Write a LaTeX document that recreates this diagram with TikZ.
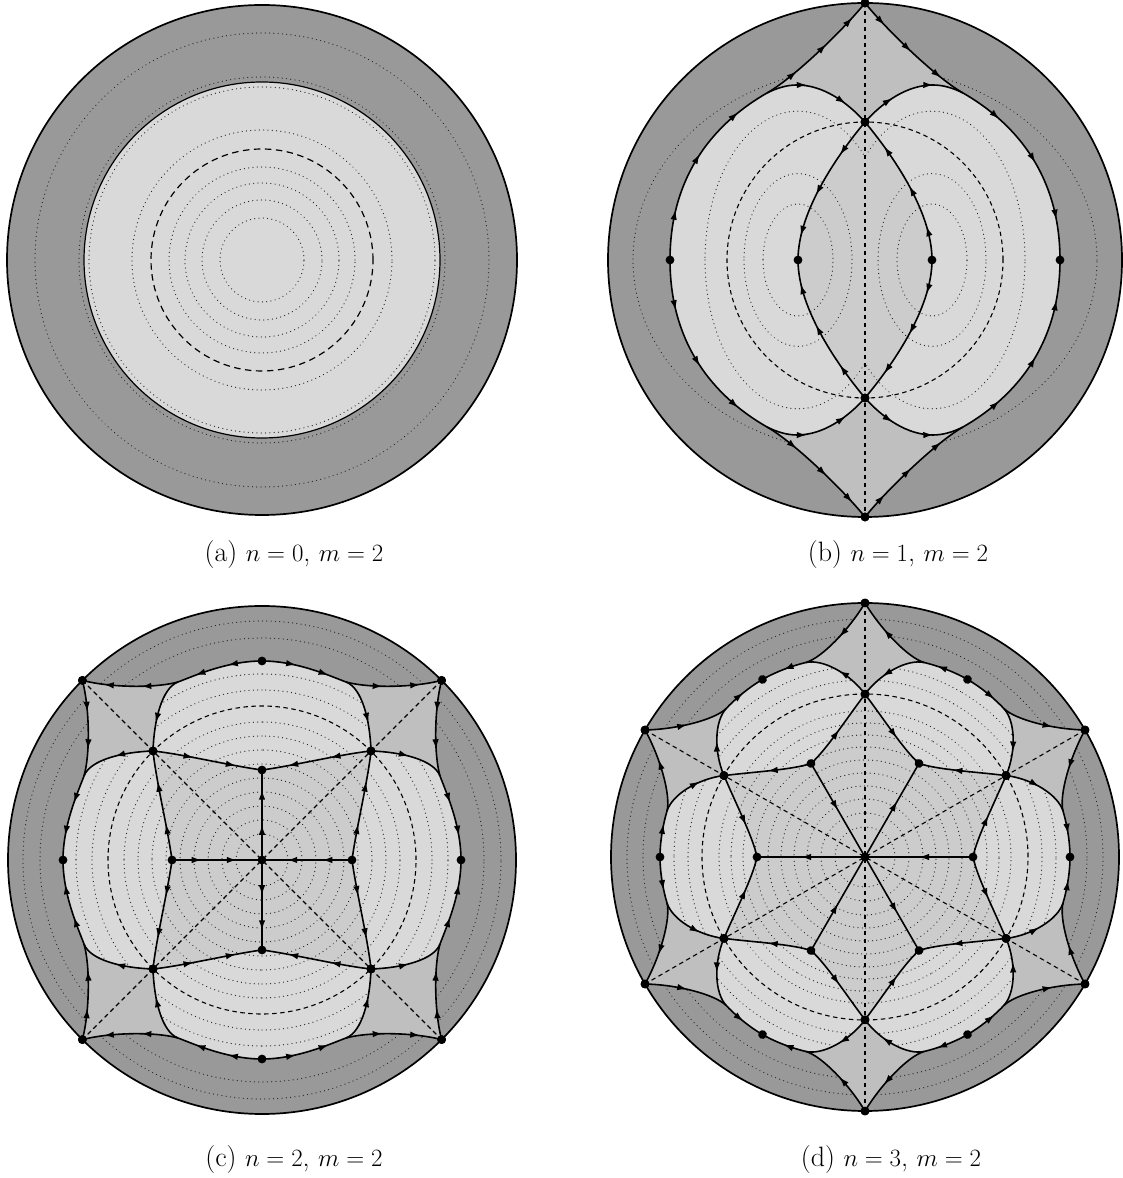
\documentclass[tikz,border=0pt]{standalone}
\usetikzlibrary{arrows.meta,decorations.markings}
\tikzset{
 drk/.style={fill=black!40},
 mdm/.style={fill=black!25},
 lgt/.style={fill=black!15},
 inr/.style={fill=black!20},
 sep/.style={line width=1.6pt},
 dsh/.style={line width=1.1pt,dash pattern=on 4.5pt off 3.5pt},
 dtt/.style={line width=1.25pt,line cap=round,dash pattern=on 0.01pt off 4.3pt,black!85},
 bnd/.style={line width=1.7pt},
 Fone/.style={postaction={decorate,decoration={markings,mark=at position 0.5 with {\arrow{>}}}}},
 Ftwo/.style={postaction={decorate,decoration={markings,mark=at position 0.33 with {\arrow{>}},mark=at position 0.72 with {\arrow{>}}}}},
 Fthree/.style={postaction={decorate,decoration={markings,mark=at position 0.22 with {\arrow{>}},mark=at position 0.5 with {\arrow{>}},mark=at position 0.8 with {\arrow{>}}}}},
 Rone/.style={postaction={decorate,decoration={markings,mark=at position 0.5 with {\arrow{<}}}}},
 Rtwo/.style={postaction={decorate,decoration={markings,mark=at position 0.33 with {\arrow{<}},mark=at position 0.72 with {\arrow{<}}}}},
 Rthree/.style={postaction={decorate,decoration={markings,mark=at position 0.22 with {\arrow{<}},mark=at position 0.5 with {\arrow{<}},mark=at position 0.8 with {\arrow{<}}}}},
 captxt/.style={font=\fontsize{28}{33}\selectfont}
}
\newcommand\dotr{4.4}
% ---------- panel b (n=1)
\newcommand\bMed{(0,0) -- (0,257) .. controls (20,232) and (70,183) .. (98,167) .. controls (145,140) and (195,90) .. (195,0) .. controls (195,-90) and (145,-140) .. (98,-167) .. controls (70,-183) and (20,-232) .. (0,-257) -- cycle}
\newcommand\bLobe{(0,138) .. controls (18,158) and (42,175) .. (68,175) .. controls (78,175) and (88,172) .. (98,167) .. controls (145,140) and (195,90) .. (195,0) .. controls (195,-90) and (145,-140) .. (98,-167) .. controls (88,-172) and (78,-175) .. (68,-175) .. controls (42,-175) and (18,-158) .. (0,-138) .. controls (25,-108) and (67,-50) .. (67,0) .. controls (67,50) and (25,108) .. (0,138) -- cycle}
\newcommand\bInn{(0,0) -- (0,138) .. controls (25,108) and (67,50) .. (67,0) .. controls (67,-50) and (25,-108) .. (0,-138) -- cycle}
\newcommand\bClip{(0,0) -- (0,138) .. controls (18,158) and (42,175) .. (68,175) .. controls (78,175) and (88,172) .. (98,167) .. controls (145,140) and (195,90) .. (195,0) .. controls (195,-90) and (145,-140) .. (98,-167) .. controls (88,-172) and (78,-175) .. (68,-175) .. controls (42,-175) and (18,-158) .. (0,-138) -- cycle}
\newcommand\bHalf[1]{%
 \draw[sep,#1three] (0,257) .. controls (20,232) and (70,183) .. (98,167);
 \draw[sep,#1three] (98,167) .. controls (145,140) and (195,90) .. (195,0);
 \draw[sep,#1two] (0,138) .. controls (18,158) and (42,175) .. (68,175) .. controls (78,175) and (88,172) .. (98,167);
 \draw[sep,#1three] (67,0) .. controls (67,50) and (25,108) .. (0,138);
 \fill (0,257) circle (\dotr) (0,138) circle (\dotr);}
\newcommand\bFrame[2]{\begin{scope}[rotate=#1]\bHalf{#2}\begin{scope}[yscale=-1]\bHalf{#2}\end{scope}\fill (195,0) circle (\dotr) (67,0) circle (\dotr);\end{scope}}
% ---------- panel c (n=2)
\newcommand\cMed{(0,0) -- (179.6,179.6) .. controls (172,150) and (172,105) .. (178,84) .. controls (184,68) and (199,35) .. (199,0) .. controls (199,-35) and (184,-68) .. (178,-84) .. controls (172,-105) and (172,-150) .. (179.6,-179.6) -- cycle}
\newcommand\cLobe{(109,109) .. controls (140,108) and (172,100) .. (178,84) .. controls (184,68) and (199,35) .. (199,0) .. controls (199,-35) and (184,-68) .. (178,-84) .. controls (172,-100) and (140,-108) .. (109,-109) .. controls (106,-80) and (94,-30) .. (90,0) .. controls (94,30) and (106,80) .. (109,109) -- cycle}
\newcommand\cInn{(0,0) -- (109,109) .. controls (106,80) and (94,30) .. (90,0) .. controls (94,-30) and (106,-80) .. (109,-109) -- cycle}
\newcommand\cClip{(0,0) -- (109,109) .. controls (140,108) and (172,100) .. (178,84) .. controls (184,68) and (199,35) .. (199,0) .. controls (199,-35) and (184,-68) .. (178,-84) .. controls (172,-100) and (140,-108) .. (109,-109) -- cycle}
\newcommand\cHalf[1]{%
 \draw[sep,#1two] (179.6,179.6) .. controls (172,150) and (172,105) .. (178,84);
 \draw[sep,#1two] (178,84) .. controls (184,68) and (199,35) .. (199,0);
 \draw[sep,#1one] (109,109) .. controls (140,108) and (172,100) .. (178,84);
 \draw[sep,#1two] (90,0) .. controls (94,30) and (106,80) .. (109,109);
 \fill (179.6,179.6) circle (\dotr) (109,109) circle (\dotr);}
\newcommand\cFrame[2]{\begin{scope}[rotate=#1]\cHalf{#2}\begin{scope}[yscale=-1]\cHalf{#2}\end{scope}\draw[sep,#2two] (90,0) -- (0,0);\fill (199,0) circle (\dotr) (90,0) circle (\dotr);\end{scope}}
% ---------- panel d (n=3)
\newcommand\dMed{(0,0) -- (220,127) .. controls (205,100) and (194,62) .. (198,46) .. controls (201,36) and (205,18) .. (205,0) .. controls (205,-18) and (201,-36) .. (198,-46) .. controls (194,-62) and (205,-100) .. (220,-127) -- cycle}
\newcommand\dLobe{(141,81.5) .. controls (168,78) and (193,62) .. (198,46) .. controls (201,36) and (205,18) .. (205,0) .. controls (205,-18) and (201,-36) .. (198,-46) .. controls (193,-62) and (168,-78) .. (141,-81.5) .. controls (130,-55) and (112,-20) .. (108,0) .. controls (112,20) and (130,55) .. (141,81.5) -- cycle}
\newcommand\dInn{(0,0) -- (141,81.5) .. controls (130,55) and (112,20) .. (108,0) .. controls (112,-20) and (130,-55) .. (141,-81.5) -- cycle}
\newcommand\dClip{(0,0) -- (141,81.5) .. controls (168,78) and (193,62) .. (198,46) .. controls (201,36) and (205,18) .. (205,0) .. controls (205,-18) and (201,-36) .. (198,-46) .. controls (193,-62) and (168,-78) .. (141,-81.5) -- cycle}
\newcommand\dHalf[1]{%
 \draw[sep,#1one] (220,127) .. controls (205,100) and (194,62) .. (198,46);
 \draw[sep,#1one] (198,46) .. controls (201,36) and (205,18) .. (205,0);
 \draw[sep,#1one] (141,81.5) .. controls (168,78) and (193,62) .. (198,46);
 \draw[sep,#1one] (108,0) .. controls (112,20) and (130,55) .. (141,81.5);
 \fill (220,127) circle (\dotr) (141,81.5) circle (\dotr);}
\newcommand\dFrame[2]{\begin{scope}[rotate=#1]\dHalf{#2}\begin{scope}[yscale=-1]\dHalf{#2}\end{scope}\draw[sep,#2one] (108,0) -- (0,0);\fill (205,0) circle (\dotr) (108,0) circle (\dotr);\end{scope}}
\begin{document}
\begin{tikzpicture}[x=1pt,y=1pt,>={Latex[length=10pt,width=6.5pt]}]
\useasboundingbox (0,0) rectangle (1123,1178);
% ===== (a)
\begin{scope}[shift={(262,918)}]
 \fill[drk] (0,0) circle (255);
 \foreach \rr in {227,183} \draw[dtt] (0,0) circle (\rr);
 \fill[lgt] (0,0) circle (178);
 \foreach \rr in {42,60,77,93,130,173} \draw[dtt] (0,0) circle (\rr);
 \draw[line width=1.2pt,dash pattern=on 6.5pt off 4.5pt] (0,0) circle (111);
 \draw[line width=1.2pt] (0,0) circle (178);
 \draw[bnd] (0,0) circle (255);
\end{scope}
% ===== (b)
\begin{scope}[shift={(865,918)}]
 \fill[drk] (0,0) circle (257);
 \draw[dtt] (0,0) ellipse [x radius=232, y radius=193];
 \foreach \ang in {0,180} {\begin{scope}[rotate=\ang]\fill[mdm] \bMed;\end{scope}}
 \foreach \ang in {0,180} {\begin{scope}[rotate=\ang]\fill[lgt] \bLobe;\end{scope}}
 \foreach \ang in {0,180} {\begin{scope}[rotate=\ang]\fill[inr] \bInn;\end{scope}}
 \foreach \ang in {0,180} {\begin{scope}[rotate=\ang]\clip \bClip;
   \foreach \ra in {35,54,93} \draw[dtt] (67,0) ellipse [x radius=\ra, y radius=1.6*\ra];\end{scope}}
 \draw[dsh] (0,0) circle (138);
 \draw[dsh] (0,257) -- (0,-257);
 \bFrame{0}{F}
 \bFrame{180}{R}
 \draw[bnd] (0,0) circle (257);
\end{scope}
% ===== (c)
\begin{scope}[shift={(262,318)}]
 \fill[drk] (0,0) circle (254);
 \foreach \rr in {222,239} \draw[dtt] (0,0) circle (\rr);
 \foreach \ang in {0,90,180,270} {\begin{scope}[rotate=\ang]\fill[mdm] \cMed;\end{scope}}
 \foreach \ang in {0,90,180,270} {\begin{scope}[rotate=\ang]\fill[lgt] \cLobe;\end{scope}}
 \foreach \ang in {0,90,180,270} {\begin{scope}[rotate=\ang]\fill[inr] \cInn;\end{scope}}
 \foreach \ang in {0,90,180,270} {\begin{scope}[rotate=\ang]\clip \cClip;
   \foreach \rr in {26,40,54,68,82,96,110,124,138,170,186} \draw[dtt] (0,0) circle (\rr);\end{scope}}
 \draw[dsh] (0,0) circle (154);
 \foreach \ang in {45,135} \draw[dsh] (\ang:254) -- (\ang+180:254);
 \cFrame{0}{F}
 \cFrame{90}{R}
 \cFrame{180}{F}
 \cFrame{270}{R}
 \fill (0,0) circle (\dotr);
 \draw[bnd] (0,0) circle (254);
\end{scope}
% ===== (d)
\begin{scope}[shift={(865,321)}]
 \fill[drk] (0,0) circle (254);
 \foreach \rr in {222,238} \draw[dtt] (0,0) circle (\rr);
 \foreach \ang in {0,60,...,300} {\begin{scope}[rotate=\ang]\fill[mdm] \dMed;\end{scope}}
 \foreach \ang in {0,60,...,300} {\begin{scope}[rotate=\ang]\fill[lgt] \dLobe;\end{scope}}
 \foreach \ang in {0,60,...,300} {\begin{scope}[rotate=\ang]\fill[inr] \dInn;\end{scope}}
 \foreach \ang in {0,60,...,300} {\begin{scope}[rotate=\ang]\clip \dClip;
   \foreach \rr in {30,44,58,71,84,97,110,122,134,146,177,191} \draw[dtt] (0,0) circle (\rr);\end{scope}}
 \draw[dsh] (0,0) circle (163);
 \foreach \ang in {30,90,150} \draw[dsh] (\ang:254) -- (\ang+180:254);
 \dFrame{0}{F}
 \dFrame{60}{R}
 \dFrame{120}{F}
 \dFrame{180}{R}
 \dFrame{240}{F}
 \dFrame{300}{R}
 \fill (0,0) circle (\dotr);
 \draw[bnd] (0,0) circle (254);
\end{scope}
% captions
\node[captxt] (capa) at (294,623) {(a) $n=0$, $m=2$};
\node[captxt] (capb) at (898,623) {(b) $n=1$, $m=2$};
\node[captxt] (capc) at (294,18) {(c) $n=2$, $m=2$};
\node[captxt] (capd) at (891,18) {(d) $n=3$, $m=2$};
\end{tikzpicture}
\end{document}
